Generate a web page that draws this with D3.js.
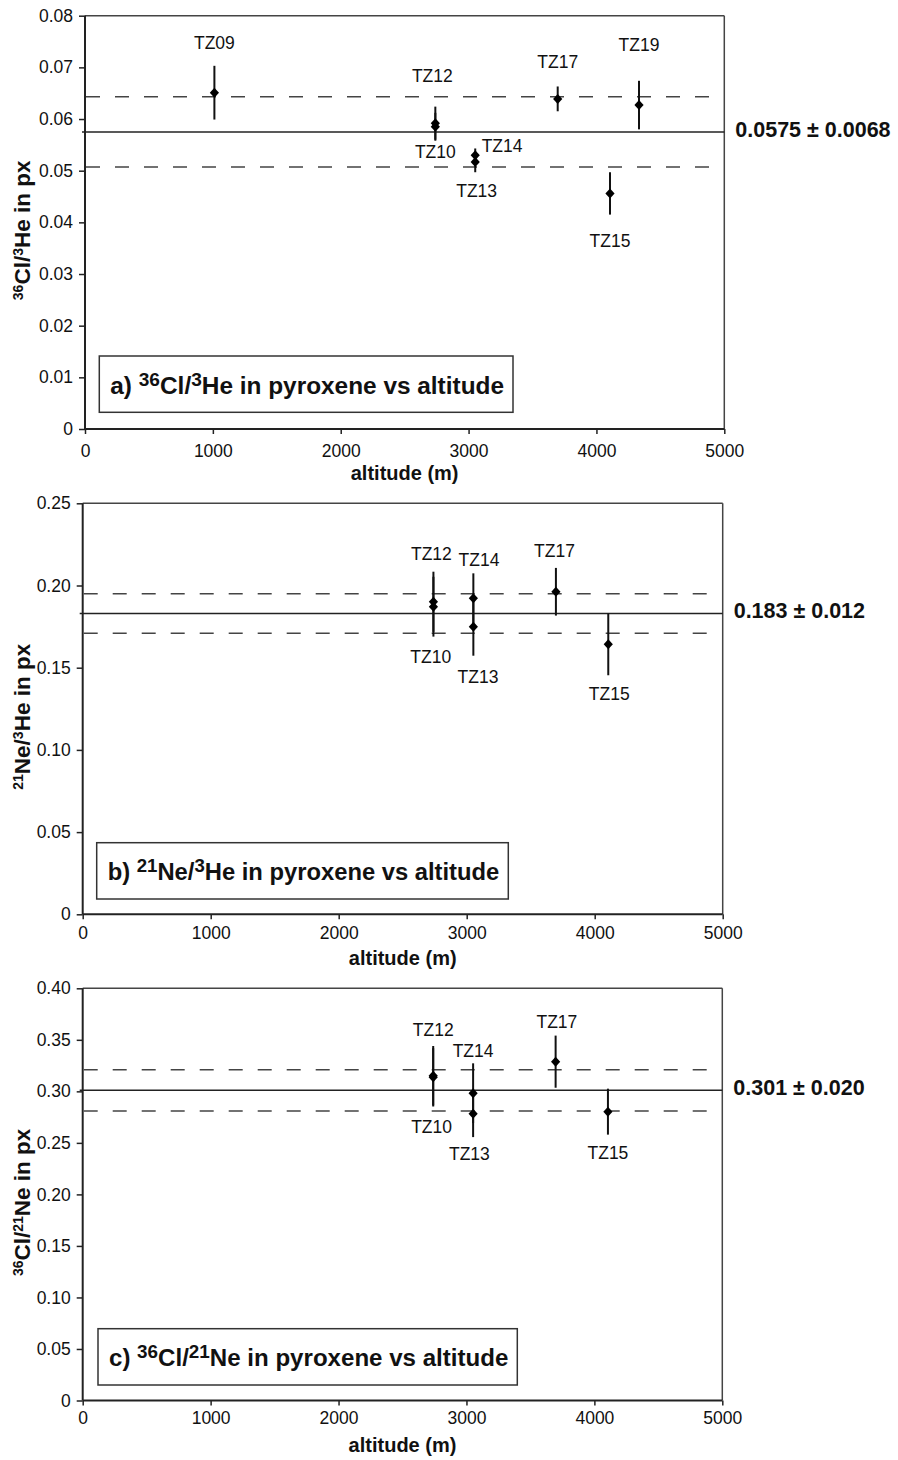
<!DOCTYPE html>
<html><head><meta charset="utf-8">
<script src="https://cdn.jsdelivr.net/npm/d3@7"></script>
<style>
body{margin:0;background:#fff}
svg{display:block}
text{font-family:"Liberation Sans",Arial,Helvetica,sans-serif;fill:#111}
</style>
</head><body><svg id="chart" width="898" height="1460"></svg>
<script>
// ---------- data ----------
const altitudeTicks = [0, 1000, 2000, 3000, 4000, 5000];
const sampleAltitude = {TZ09: 1012, TZ10: 2740, TZ12: 2740, TZ13: 3052, TZ14: 3052, TZ15: 4106, TZ17: 3697, TZ19: 4333};

// a) 36Cl/3He
const clHeSamples = ["TZ09", "TZ12", "TZ10", "TZ14", "TZ13", "TZ17", "TZ19", "TZ15"];
const clHeValues  = [0.0651, 0.0592, 0.0585, 0.0530, 0.0517, 0.0639, 0.0627, 0.0456];
const clHeErrors  = [0.0052, 0.0032, 0.0027, 0.0013, 0.0020, 0.0024, 0.0047, 0.0041];
const clHeMean = 0.0575, clHeSpread = 0.0068;
const clHeTicks = [0, 0.01, 0.02, 0.03, 0.04, 0.05, 0.06, 0.07, 0.08];

// b) 21Ne/3He
const neHeSamples = ["TZ12", "TZ10", "TZ14", "TZ13", "TZ17", "TZ15"];
const neHeValues  = [0.1901, 0.1871, 0.1922, 0.1749, 0.1962, 0.1642];
const neHeErrors  = [0.0183, 0.0182, 0.0152, 0.0176, 0.0145, 0.0188];
const neHeMean = 0.183, neHeSpread = 0.012;
const neHeTicks = [0, 0.05, 0.10, 0.15, 0.20, 0.25];

// c) 36Cl/21Ne
const clNeSamples = ["TZ12", "TZ10", "TZ14", "TZ13", "TZ17", "TZ15"];
const clNeValues  = [0.3152, 0.3136, 0.2982, 0.2782, 0.3288, 0.2803];
const clNeErrors  = [0.0288, 0.0283, 0.0290, 0.0226, 0.0253, 0.0223];
const clNeMean = 0.301, clNeSpread = 0.020;
const clNeTicks = [0, 0.05, 0.10, 0.15, 0.20, 0.25, 0.30, 0.35, 0.40];

// ---------- layout (not data) ----------
const panels = [
  {samples: clHeSamples, values: clHeValues, errors: clHeErrors, mean: clHeMean, spread: clHeSpread,
   ticks: clHeTicks, annot: "0.0575 ± 0.0068",
   yTitle: [["36", true], ["Cl/", false], ["3", true], ["He in px", false]],
   legend: [["a) ", false], ["36", true], ["Cl/", false], ["3", true], ["He in pyroxene vs altitude", false]],
   L: 85, R: 724.3, T: 15.7, B: 429, xLabGap: 27.7, box: [99.3, 356, 513, 412.3],
   labels: {TZ09: [0, -43.7, "middle"], TZ12: [-3, -41.6, "middle"], TZ10: [0, 31.3, "middle"],
            TZ14: [6.4, -3.3, "start"], TZ13: [1.4, 35, "middle"], TZ17: [0, -30.7, "middle"],
            TZ19: [0, -53.6, "middle"], TZ15: [0, 53.4, "middle"]}},
  {samples: neHeSamples, values: neHeValues, errors: neHeErrors, mean: neHeMean, spread: neHeSpread,
   ticks: neHeTicks, annot: "0.183 ± 0.012",
   yTitle: [["21", true], ["Ne/", false], ["3", true], ["He in px", false]],
   legend: [["b) ", false], ["21", true], ["Ne/", false], ["3", true], ["He in pyroxene vs altitude", false]],
   L: 82.7, R: 722.7, T: 503.3, B: 914.3, xLabGap: 24, box: [96.7, 842.7, 508.3, 899],
   labels: {TZ12: [-2, -41.7, "middle"], TZ14: [5.6, -32.3, "middle"], TZ17: [-1.4, -35, "middle"],
            TZ10: [-2.7, 56, "middle"], TZ13: [4.6, 56, "middle"], TZ15: [1, 55.7, "middle"]}},
  {samples: clNeSamples, values: clNeValues, errors: clNeErrors, mean: clNeMean, spread: clNeSpread,
   ticks: clNeTicks, annot: "0.301 ± 0.020",
   yTitle: [["36", true], ["Cl/", false], ["21", true], ["Ne in px", false]],
   legend: [["c) ", false], ["36", true], ["Cl/", false], ["21", true], ["Ne in pyroxene vs altitude", false]],
   L: 82.7, R: 722.3, T: 988.3, B: 1400.5, xLabGap: 23.5, box: [98, 1328.7, 517.3, 1385],
   labels: {TZ12: [0, -39.7, "middle"], TZ14: [0, -36.6, "middle"], TZ17: [1.3, -33.4, "middle"],
            TZ10: [-1.6, 55.4, "middle"], TZ13: [-3.7, 46, "middle"], TZ15: [0, 47.3, "middle"]}}
];

const svg = d3.select("#chart");
const fmtY = v => v === 0 ? "0" : v.toFixed(2);

panels.forEach(p => {
  const yMax = p.ticks[p.ticks.length - 1];
  const x = d3.scaleLinear().domain([0, 5000]).range([p.L, p.R]);
  const y = d3.scaleLinear().domain([0, yMax]).range([p.B, p.T]);
  const g = svg.append("g");

  // frame (top & right)
  g.append("line").attr("x1", p.L).attr("x2", p.R).attr("y1", p.T).attr("y2", p.T)
    .attr("stroke", "#444").attr("stroke-width", 1.5);
  g.append("line").attr("x1", p.R).attr("x2", p.R).attr("y1", p.T).attr("y2", p.B)
    .attr("stroke", "#444").attr("stroke-width", 1.5);

  // axes
  const yAxis = d3.axisLeft(y).tickValues(p.ticks).tickFormat(fmtY).tickSize(6).tickPadding(6);
  const ya = g.append("g").attr("transform", `translate(${p.L},0)`).call(yAxis);
  const xAxis = d3.axisBottom(x).tickValues(altitudeTicks).tickFormat(d3.format("d")).tickSize(5).tickPadding(p.xLabGap - 17);
  const xa = g.append("g").attr("transform", `translate(0,${p.B})`).call(xAxis);
  [ya, xa].forEach(a => {
    a.select(".domain").attr("stroke", "#222").attr("stroke-width", 2);
    a.selectAll(".tick line").attr("stroke", "#222").attr("stroke-width", 1.5);
    a.selectAll(".tick text").attr("font-size", 17.5).attr("fill", "#111")
      .attr("font-family", '"Liberation Sans",Arial,sans-serif');
  });
  ya.select(".domain").attr("d", `M0,${p.B}V${p.T}`);
  xa.select(".domain").attr("d", `M${p.L},0H${p.R}`);
  xa.selectAll(".tick text").attr("dy", "0.71em");

  // mean and spread lines
  g.append("line").attr("x1", p.L - 3).attr("x2", p.R).attr("y1", y(p.mean)).attr("y2", y(p.mean))
    .attr("stroke", "#222").attr("stroke-width", 1.6);
  [p.mean + p.spread, p.mean - p.spread].forEach(v => {
    g.append("line").attr("x1", p.L + 1).attr("x2", p.R - 5).attr("y1", y(v)).attr("y2", y(v))
      .attr("stroke", "#444").attr("stroke-width", 1.6).attr("stroke-dasharray", "14,15");
  });

  // annotation at right
  g.append("text").attr("x", p.R + 11).attr("y", y(p.mean) + 5)
    .attr("font-size", 21.5).attr("font-weight", "bold").text(p.annot);

  // data
  const pts = p.samples.map((s, i) => ({name: s, alt: sampleAltitude[s], v: p.values[i], e: p.errors[i]}));
  g.selectAll(".err").data(pts).enter().append("line")
    .attr("x1", d => x(d.alt)).attr("x2", d => x(d.alt))
    .attr("y1", d => y(d.v - d.e)).attr("y2", d => y(d.v + d.e))
    .attr("stroke", "#111").attr("stroke-width", 2);
  g.selectAll(".pt").data(pts).enter().append("path")
    .attr("d", d => { const cx = x(d.alt), cy = y(d.v);
      return `M${cx},${cy - 5}L${cx + 4.6},${cy}L${cx},${cy + 5}L${cx - 4.6},${cy}Z`; })
    .attr("fill", "#000");
  g.selectAll(".lab").data(pts).enter().append("text")
    .attr("x", d => x(d.alt) + p.labels[d.name][0])
    .attr("y", d => y(d.v) + p.labels[d.name][1])
    .attr("text-anchor", d => p.labels[d.name][2])
    .attr("font-size", 17.5).text(d => d.name);

  // x-axis title
  g.append("text").attr("x", (p.L + p.R) / 2).attr("y", p.B + 51)
    .attr("text-anchor", "middle").attr("font-size", 20).attr("font-weight", "bold").text("altitude (m)");

  // y-axis title (rotated)
  const yt = g.append("text").attr("transform", `translate(30,${(p.T + p.B) / 2 + 8}) rotate(-90)`)
    .attr("text-anchor", "middle").attr("font-size", 22.5).attr("font-weight", "bold");
  p.yTitle.forEach((seg, i) => {
    const prevSup = i > 0 && p.yTitle[i - 1][1];
    const t = yt.append("tspan").text(seg[0]);
    if (seg[1]) t.attr("font-size", 14).attr("dy", -7);
    else if (prevSup) t.attr("dy", 7);
  });

  // legend box
  const [bx0, by0, bx1, by1] = p.box;
  g.append("rect").attr("x", bx0).attr("y", by0).attr("width", bx1 - bx0).attr("height", by1 - by0)
    .attr("fill", "#fff").attr("stroke", "#333").attr("stroke-width", 1.5);
  const lt = g.append("text").attr("x", bx0 + 11).attr("y", (by0 + by1) / 2 + 9.5)
    .attr("font-size", 23).attr("font-weight", "bold")
    .attr("textLength", bx1 - bx0 - 20).attr("lengthAdjust", "spacingAndGlyphs");
  p.legend.forEach((seg, i) => {
    const prevSup = i > 0 && p.legend[i - 1][1];
    const t = lt.append("tspan").text(seg[0]);
    if (seg[1]) t.attr("font-size", 18).attr("dy", -8);
    else if (prevSup) t.attr("dy", 8);
  });
});
</script>
</body></html>
